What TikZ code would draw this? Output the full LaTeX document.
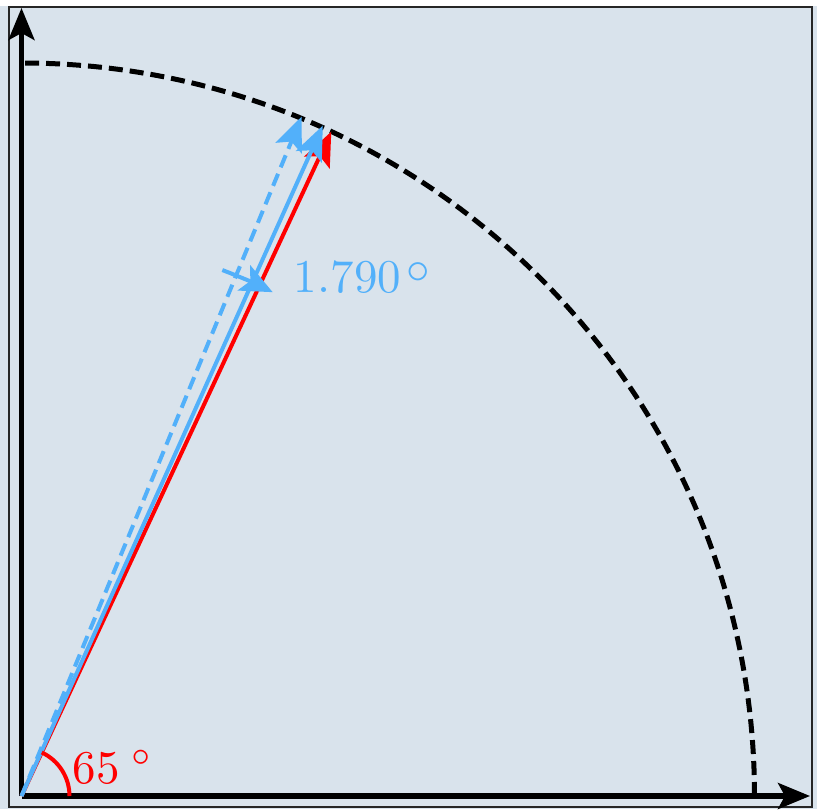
\documentclass[tikz,border=0pt]{standalone}
\usetikzlibrary{arrows.meta}
\definecolor{bgc}{RGB}{217,227,236}
\definecolor{vblue}{RGB}{82,176,250}
\tikzset{
  axis/.style={line width=5pt,black,-{Stealth[length=32pt,width=26pt,inset=7pt]}},
  vecred/.style={line width=4pt,red,-{Stealth[length=34pt,width=28pt,inset=7pt]}},
  vecblue/.style={line width=4pt,vblue,-{Stealth[length=34pt,width=28pt,inset=7pt]}},
  vecbluedash/.style={vecblue,dash pattern=on 13pt off 7pt},
  circdash/.style={line width=5pt,black,dash pattern=on 14pt off 7pt},
  lbl/.style={inner sep=0pt,scale=4.7,font=\fontsize{10}{12}\selectfont},
}
\begin{document}
\begin{tikzpicture}[x=1pt,y=1pt]
\useasboundingbox (0,0) rectangle (817,809);
\fill[bgc] (0,0) rectangle (817,809);
\fill[white] (0,803) rectangle (817,809);
\draw[line width=2pt,black!85] (9,2) rectangle (812,802);
\coordinate (O) at (21.5,13);
\coordinate (Y) at (21.5,801);
\coordinate (X) at (810,13);
\coordinate (R) at ([shift={(65:733)}]O);
\coordinate (B) at ([shift={(65.8:735)}]O);
\coordinate (D) at ([shift={(67.59:735)}]O);
\coordinate (C0) at ([shift={(0:733)}]O);
\coordinate (A0) at ([shift={(0:48)}]O);
\coordinate (M0) at ([shift={(69.1:563)}]O);
% dashed circle
\draw[circdash] (C0) arc[start angle=0,end angle=90,radius=733];
% axes
\draw[axis] (O) -- (Y);
\draw[axis] (O) -- (X);
% vectors
\draw[vecred] (O) -- (R);
\draw[vecblue] (O) -- (B);
\draw[vecbluedash] (O) -- (D);
% angle arcs
\draw[line width=4pt,red] (A0) arc[start angle=0,end angle=65,radius=48];
\draw[line width=4pt,vblue,-{Stealth[length=32pt,width=28pt,inset=7pt]}] (M0) arc[start angle=69.1,end angle=63.5,radius=563];
% labels
\node[lbl,red,anchor=base west] (l65) at (72,26) {65\kern2.5pt$^\circ$};
\node[lbl,vblue,anchor=base west] (l179) at (293,516) {1.790\kern1.2pt\raisebox{2pt}{$\circ$}};
\end{tikzpicture}
\end{document}
